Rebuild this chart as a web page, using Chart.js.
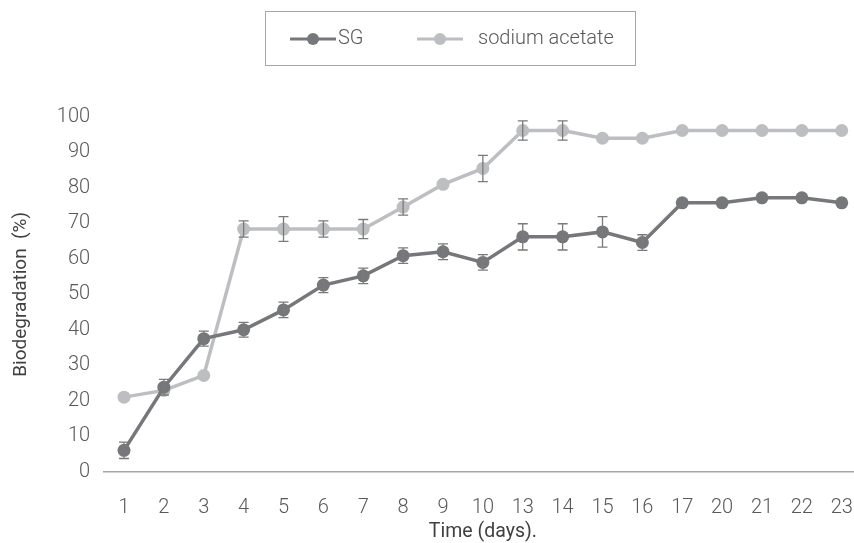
<!DOCTYPE html>
<html lang="en">
  <head>
    <meta charset="UTF-8" />
    <title>Biodegradation</title>
    <script src="https://cdn.jsdelivr.net/npm/chart.js"></script>
    <style>
      html, body { margin: 0; padding: 0; background: #fff; overflow: hidden; }
      #wrap { position: relative; width: 877px; height: 543px; }
    </style>
  </head>
  <body>
    <div id="wrap"><canvas id="grafica"></canvas></div>
    <script>
      const days = ["1", "2", "3", "4", "5", "6", "7", "8", "9", "10", "13", "14", "15", "16", "17", "20", "21", "22", "23"];
      const sgValues = [6, 23.8, 37.5, 40, 45.6, 52.6, 55.2, 60.9, 62, 59, 66.2, 66.2, 67.6, 64.6, 75.8, 75.8, 77.2, 77.2, 75.8];
      const sgErrors = [2.3, 2.2, 2.1, 2.1, 2.2, 2.1, 2.2, 2.2, 2.2, 2.2, 3.7, 3.7, 4.3, 2.2, 0, 0, 0, 0, 0];
      const naValues = [21, 22.9, 27.1, 68.4, 68.4, 68.4, 68.4, 74.6, 81, 85.5, 96.2, 96.2, 94, 94, 96.2, 96.2, 96.2, 96.2, 96.2];
      const naErrors = [0, 0, 0, 2.3, 3.5, 2.3, 2.7, 2.3, 0, 3.7, 2.7, 2.7, 0, 0, 0, 0, 0, 0, 0];
      const yTicks = [0, 10, 20, 30, 40, 50, 60, 70, 80, 90, 100];

      const SG_COLOR = "#76777a";
      const NA_COLOR = "#bdbec1";
      const TEXT_COLOR = "#595959";
      const FONT = "Roboto";

      // barras de error dibujadas con las escalas del grafico
      const errorBars = {
        id: "errorBars",
        afterDatasetsDraw(chart) {
          const ctx = chart.ctx;
          const y = chart.scales.y;
          ctx.save();
          ctx.strokeStyle = "#7a7a7a";
          ctx.lineWidth = 1.3;
          chart.data.datasets.forEach(function (ds, i) {
            const meta = chart.getDatasetMeta(i);
            meta.data.forEach(function (pt, j) {
              const e = ds.errors[j];
              if (!e) return;
              const top = y.getPixelForValue(ds.data[j] + e);
              const bot = y.getPixelForValue(ds.data[j] - e);
              ctx.beginPath();
              ctx.moveTo(pt.x, top);
              ctx.lineTo(pt.x, bot);
              ctx.moveTo(pt.x - 5, top);
              ctx.lineTo(pt.x + 5, top);
              ctx.moveTo(pt.x - 5, bot);
              ctx.lineTo(pt.x + 5, bot);
              ctx.stroke();
            });
          });
          ctx.restore();
        },
      };

      // leyenda con recuadro
      const boxLegend = {
        id: "boxLegend",
        afterDraw(chart) {
          const ctx = chart.ctx;
          ctx.save();
          ctx.strokeStyle = "#a6a6a6";
          ctx.lineWidth = 1;
          ctx.strokeRect(265.5, 11.5, 370, 54);
          const items = [
            { x: 290, ds: chart.data.datasets[0], gap: 2 },
            { x: 417, ds: chart.data.datasets[1], gap: 15 },
          ];
          ctx.font = "300 20px " + FONT;
          ctx.textBaseline = "middle";
          items.forEach(function (it) {
            ctx.strokeStyle = it.ds.borderColor;
            ctx.lineWidth = 3;
            ctx.beginPath();
            ctx.moveTo(it.x, 39);
            ctx.lineTo(it.x + 46, 39);
            ctx.stroke();
            ctx.fillStyle = it.ds.borderColor;
            ctx.beginPath();
            ctx.arc(it.x + 23, 39, 6, 0, Math.PI * 2);
            ctx.fill();
            ctx.fillStyle = TEXT_COLOR;
            ctx.fillText(it.ds.label, it.x + 46 + it.gap, 39);
          });
          ctx.restore();
        },
      };

      new Chart(document.getElementById("grafica"), {
        type: "line",
        data: {
          labels: days,
          datasets: [
            {
              label: "SG",
              data: sgValues,
              errors: sgErrors,
              borderColor: SG_COLOR,
              backgroundColor: SG_COLOR,
              borderWidth: 3.5,
              pointRadius: 6.5,
              pointBorderWidth: 0,
              tension: 0,
            },
            {
              label: "sodium acetate",
              data: naValues,
              errors: naErrors,
              borderColor: NA_COLOR,
              backgroundColor: NA_COLOR,
              borderWidth: 3.5,
              pointRadius: 6.5,
              pointBorderWidth: 0,
              tension: 0,
            },
          ],
        },
        options: {
          responsive: true,
          maintainAspectRatio: false,
          animation: false,
          layout: { padding: { top: 117, left: 10, right: 0, bottom: -1 } },
          plugins: {
            legend: { display: false },
            tooltip: { enabled: false },
          },
          scales: {
            x: {
              offset: true,
              grid: { display: false, drawTicks: false },
              border: { display: true, color: "#a6a6a6", width: 1.5 },
              ticks: { color: TEXT_COLOR, font: { family: FONT, size: 20, weight: "300" }, padding: 24, maxRotation: 0, autoSkip: false },
              title: { display: true, text: "Time (days).", color: "#404040", font: { family: FONT, size: 19.5 }, padding: { top: -23, bottom: 0 } },
            },
            y: {
              min: yTicks[0],
              max: yTicks[yTicks.length - 1],
              afterBuildTicks: function (axis) {
                axis.ticks = yTicks.map(function (v) { return { value: v }; });
              },
              grid: { display: false, drawTicks: false },
              border: { display: false },
              ticks: { color: TEXT_COLOR, font: { family: FONT, size: 20, weight: "300" }, padding: 14 },
              title: { display: true, text: "Biodegradation  (%)", color: "#404040", font: { family: FONT, size: 19 }, padding: { top: 0, bottom: 10 } },
            },
          },
        },
        plugins: [errorBars, boxLegend],
      });
    </script>
  </body>
</html>
